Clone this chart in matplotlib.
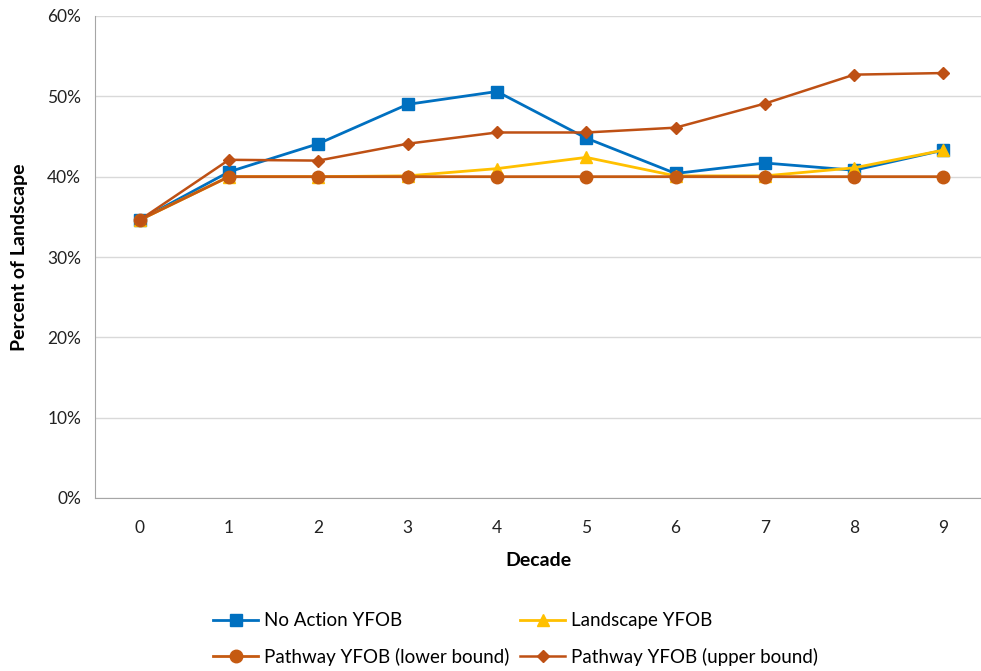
from matplotlib import pyplot as plt
from matplotlib.ticker import PercentFormatter
import numpy as np

plt.rcParams['font.family'] = ['Lato', 'DejaVu Sans']

decades = [0, 1, 2, 3, 4, 5, 6, 7, 8, 9]
no_action = [34.6, 40.6, 44.1, 49.0, 50.6, 44.8, 40.4, 41.7, 40.8, 43.3]
landscape = [34.6, 40.0, 40.0, 40.1, 41.0, 42.4, 40.1, 40.1, 41.1, 43.3]
lower_bound = [34.6, 40.0, 40.0, 40.0, 40.0, 40.0, 40.0, 40.0, 40.0, 40.0]
upper_bound = [34.6, 42.1, 42.0, 44.1, 45.5, 45.5, 46.1, 49.1, 52.7, 52.9]

fig = plt.figure(figsize=(9.81, 6.71), dpi=100)
ax = fig.add_axes([95/981, 1 - 498/671, 1 - 95/981, (498 - 16)/671])

x = np.array(decades)
l1, = ax.plot(x, no_action, color='#0070C0', lw=2, marker='s', ms=9, label='No Action YFOB')
l2, = ax.plot(x, landscape, color='#FFC000', lw=2, marker='^', ms=9, label='Landscape YFOB')
l3, = ax.plot(x, lower_bound, color='#C55A11', lw=2, marker='o', ms=9,
              label='Pathway YFOB (lower bound)')
l4, = ax.plot(x, upper_bound, color='#BE5014', lw=1.8, marker='D', ms=6.5,
              label='Pathway YFOB (upper bound)')

ax.set_xlim(-0.5, 9.42)
ax.set_ylim(0, 60)
ax.set_xticks(x)
ax.set_yticks(np.arange(0, 61, 10))
ax.yaxis.set_major_formatter(PercentFormatter(decimals=0))
ax.tick_params(length=0, labelsize=12.5, colors='#222222', pad=10)
ax.tick_params(axis='x', pad=16)
ax.grid(axis='y', color='#d9d9d9', lw=1)
ax.set_axisbelow(True)
for side in ['top', 'right']:
    ax.spines[side].set_visible(False)
for side in ['left', 'bottom']:
    ax.spines[side].set_color('#a6a6a6')

ax.set_xlabel('Decade', fontsize=14, fontweight='bold', labelpad=11)
ax.set_ylabel('Percent of Landscape', fontsize=14, fontweight='bold', labelpad=14)

# legend fills column-wise, so order handles to give rows (1,2) and (3,4)
fig.legend([l1, l3, l2, l4], [l1.get_label(), l3.get_label(), l2.get_label(), l4.get_label()],
           loc='center left', bbox_to_anchor=(213/981, 1 - 639/671), ncol=2,
           frameon=False, fontsize=13.5, handlelength=2.4, columnspacing=0.6,
           labelspacing=1.0, handletextpad=0.3, borderaxespad=0, borderpad=0)

fig.savefig('out.png', dpi=100)
